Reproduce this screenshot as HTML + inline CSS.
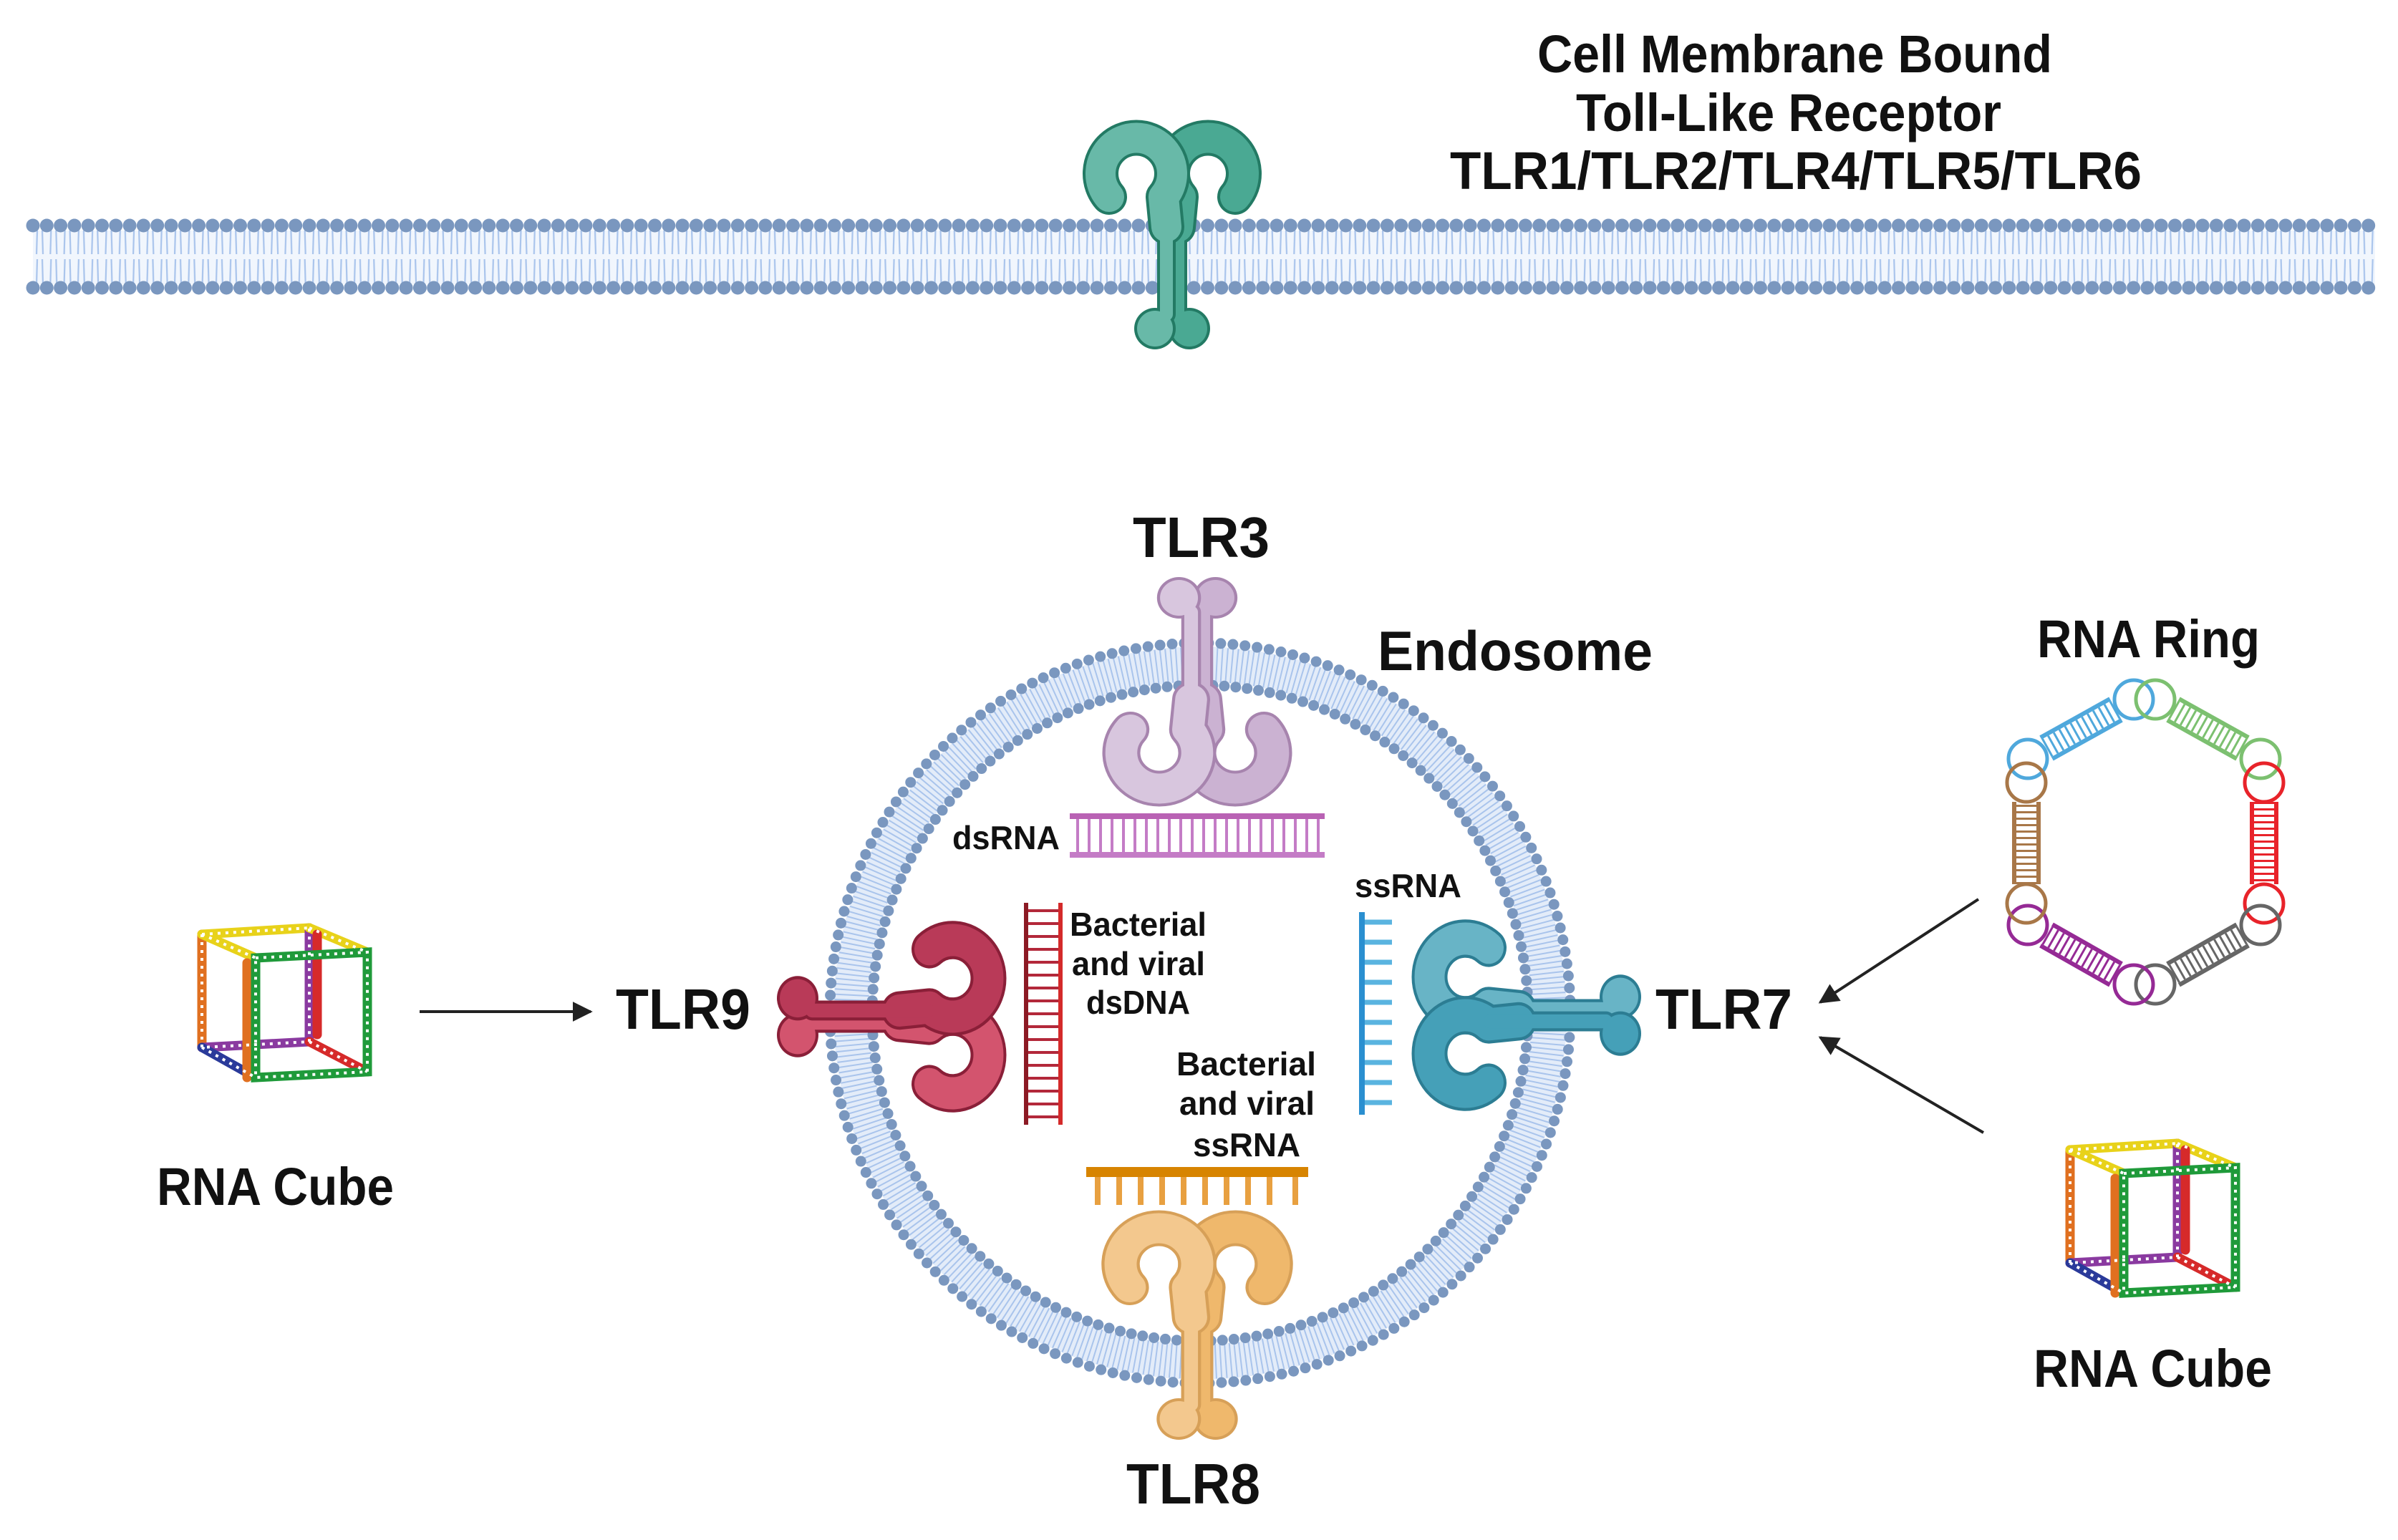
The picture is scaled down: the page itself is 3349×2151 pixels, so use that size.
<!DOCTYPE html>
<html><head><meta charset="utf-8"><style>
html,body{margin:0;padding:0;background:#fff;}
svg{display:block;}
text{font-family:"Liberation Sans",sans-serif;font-weight:bold;fill:#111;}
</style></head><body>
<svg width="3349" height="2151" viewBox="0 0 3349 2151" xmlns="http://www.w3.org/2000/svg">
<defs>
<pattern id="tails" x="46" y="322" width="19.3" height="75" patternUnits="userSpaceOnUse">
 <rect width="19.3" height="75" fill="#f1f6fd"/>
 <path d="M6 0 L5 33 M13 0 L14 33 M6 40 L5 75 M13 40 L14 75" stroke="#a9c4ec" stroke-width="2.2" fill="none"/>
</pattern>
<g id="half">
 <path d="M-88 108 A50 50 0 1 1 -12 108 L-8 150" fill="none" stroke="var(--o)" stroke-width="50" stroke-linecap="round" stroke-linejoin="round"/>
 <line x1="-8" y1="110" x2="-8" y2="272" stroke="var(--o)" stroke-width="26" stroke-linecap="round"/>
 <circle cx="-24" cy="292" r="29" fill="var(--o)"/>
 <path d="M-88 108 A50 50 0 1 1 -12 108 L-8 150" fill="none" stroke="var(--f)" stroke-width="42" stroke-linecap="round" stroke-linejoin="round"/>
 <line x1="-8" y1="110" x2="-8" y2="272" stroke="var(--f)" stroke-width="18" stroke-linecap="round"/>
 <circle cx="-24" cy="292" r="25" fill="var(--f)"/>
</g>
<g id="rec">
 <g transform="scale(-1,1)" style="--f:var(--f2)"><use href="#half"/></g>
 <use href="#half"/>
</g>
<g id="cube">
 <g fill="none" stroke-width="13" stroke-linecap="round">
  <path d="M282 1305 L432 1296" stroke="#e8d21a"/>
  <path d="M282 1305 L282 1463" stroke="#e07020"/>
  <path d="M282 1463 L432 1455" stroke="#8a3aa0"/>
  <path d="M432 1296 L432 1455" stroke="#8a3aa0"/>
  <path d="M282 1305 L357 1338" stroke="#e8d21a"/>
  <path d="M432 1296 L513 1330" stroke="#e8d21a"/>
  <path d="M282 1463 L357 1505" stroke="#2a3a9a"/>
  <path d="M432 1455 L513 1497" stroke="#d62a2a"/>
  <path d="M443 1305 L443 1445" stroke="#d62a2a"/>
  <path d="M345 1345 L345 1505" stroke="#e07020"/>
  <path d="M357 1338 L513 1330 L513 1497 L357 1505 Z" stroke="#1f9a3a"/>
 </g>
 <g fill="none" stroke="#fff" stroke-width="4" stroke-dasharray="4 7">
  <path d="M282 1305 L432 1296 M282 1305 L282 1463 L432 1455 L432 1296 M282 1305 L357 1338 M432 1296 L513 1330 M282 1463 L357 1505 M432 1455 L513 1497 M357 1338 L513 1330 L513 1497 L357 1505 Z"/>
 </g>
</g>
<marker id="ah" viewBox="0 0 10 10" refX="9" refY="5" markerWidth="7" markerHeight="7" orient="auto"><path d="M0 0 L10 5 L0 10 Z" fill="#222"/></marker>
</defs>

<!-- cell membrane -->
<rect x="46" y="322" width="3271" height="75" fill="url(#tails)"/>
<line x1="46" y1="315" x2="3317" y2="315" stroke="#7a97bf" stroke-width="19" stroke-dasharray="0 19.3" stroke-linecap="round"/>
<line x1="46" y1="402" x2="3317" y2="402" stroke="#7a97bf" stroke-width="19" stroke-dasharray="0 19.3" stroke-linecap="round"/>
<g transform="translate(1637,167)" style="--f:#68b9a8;--f2:#4aa993;--o:#237a64"><use href="#rec"/></g>

<text x="2147" y="101" font-size="74" textLength="719" lengthAdjust="spacingAndGlyphs">Cell Membrane Bound</text>
<text x="2201" y="183" font-size="74" textLength="594" lengthAdjust="spacingAndGlyphs">Toll-Like Receptor</text>
<text x="2025" y="264" font-size="74" textLength="966" lengthAdjust="spacingAndGlyphs">TLR1/TLR2/TLR4/TLR5/TLR6</text>

<!-- endosome -->
<circle cx="1676" cy="1415" r="487" fill="none" stroke="#e3ecf9" stroke-width="50"/>
<circle cx="1676" cy="1415" r="487" fill="none" stroke="#a9c4ec" stroke-width="48" stroke-dasharray="2 5"/>
<circle cx="1676" cy="1415" r="517" fill="none" stroke="#7a97bf" stroke-width="15" stroke-dasharray="0 17" stroke-linecap="round"/>
<circle cx="1676" cy="1415" r="458" fill="none" stroke="#7a97bf" stroke-width="15" stroke-dasharray="0 16" stroke-linecap="round"/>

<!-- receptors -->
<g transform="translate(1672,1127) scale(1.06,-1)" style="--f:#d8c6de;--f2:#cbb2d2;--o:#a784ae"><use href="#rec"/></g>
<g transform="translate(1672,1690) scale(1.07,1)" style="--f:#f3c88e;--f2:#efb86c;--o:#d7a058"><use href="#rec"/></g>
<g transform="translate(1406,1420) rotate(90) scale(1.07,1)" style="--f:#b93a58;--f2:#d3546e;--o:#8a1f38"><use href="#rec"/></g>
<g transform="translate(1971,1418) rotate(-90) scale(1.07,1)" style="--f:#45a0b8;--f2:#68b4c6;--o:#2c7d93"><use href="#rec"/></g>

<!-- dsRNA -->
<g stroke="#c47cc6" stroke-width="4">
<path d="M1505 1142 V1194 M1521 1142 V1194 M1537 1142 V1194 M1553 1142 V1194 M1569 1142 V1194 M1585 1142 V1194 M1601 1142 V1194 M1617 1142 V1194 M1633 1142 V1194 M1649 1142 V1194 M1665 1142 V1194 M1681 1142 V1194 M1697 1142 V1194 M1713 1142 V1194 M1729 1142 V1194 M1745 1142 V1194 M1761 1142 V1194 M1777 1142 V1194 M1793 1142 V1194 M1809 1142 V1194 M1825 1142 V1194 M1841 1142 V1194"/>
</g>
<rect x="1494" y="1136" width="356" height="8" fill="#b962b4"/>
<rect x="1494" y="1190" width="356" height="8" fill="#c47cc6"/>
<!-- dsDNA -->
<g stroke-width="4">
<path d="M1432 1272 H1482 M1432 1290 H1482 M1432 1308 H1482 M1432 1326 H1482 M1432 1344 H1482 M1432 1362 H1482 M1432 1380 H1482 M1432 1398 H1482 M1432 1416 H1482 M1432 1434 H1482 M1432 1452 H1482 M1432 1470 H1482 M1432 1488 H1482 M1432 1506 H1482 M1432 1524 H1482 M1432 1542 H1482 M1432 1560 H1482" stroke="#b3283a"/>
</g>
<rect x="1430" y="1261" width="6" height="310" fill="#8c1a24"/>
<rect x="1478" y="1261" width="6" height="310" fill="#d42a2a"/>
<!-- ssRNA blue -->
<rect x="1898" y="1274" width="8" height="283" fill="#2a8fd0"/>
<g stroke="#5ab4e0" stroke-width="7"><path d="M1906 1288 H1944 M1906 1316 H1944 M1906 1344 H1944 M1906 1372 H1944 M1906 1400 H1944 M1906 1428 H1944 M1906 1456 H1944 M1906 1484 H1944 M1906 1512 H1944 M1906 1540 H1944"/></g>
<!-- orange comb -->
<rect x="1517" y="1630" width="310" height="14" fill="#d78400"/>
<g stroke="#e8a040" stroke-width="8"><path d="M1533 1644 V1683 M1563 1644 V1683 M1593 1644 V1683 M1623 1644 V1683 M1653 1644 V1683 M1683 1644 V1683 M1713 1644 V1683 M1743 1644 V1683 M1773 1644 V1683 M1809 1644 V1683"/></g>

<!-- labels -->
<text x="1582" y="778" font-size="80" textLength="191" lengthAdjust="spacingAndGlyphs">TLR3</text>
<text x="1924" y="936" font-size="78" textLength="384" lengthAdjust="spacingAndGlyphs">Endosome</text>
<text x="860" y="1437" font-size="80" textLength="188" lengthAdjust="spacingAndGlyphs">TLR9</text>
<text x="2312" y="1437" font-size="80" textLength="191" lengthAdjust="spacingAndGlyphs">TLR7</text>
<text x="1573" y="2100" font-size="80" textLength="187" lengthAdjust="spacingAndGlyphs">TLR8</text>
<text x="2845" y="918" font-size="74" textLength="311" lengthAdjust="spacingAndGlyphs">RNA Ring</text>
<text x="219" y="1683" font-size="74" textLength="331" lengthAdjust="spacingAndGlyphs">RNA Cube</text>
<text x="2840" y="1937" font-size="74" textLength="333" lengthAdjust="spacingAndGlyphs">RNA Cube</text>

<g font-size="46">
<text x="1330" y="1186" textLength="150" lengthAdjust="spacingAndGlyphs">dsRNA</text>
<text x="1892" y="1253" textLength="149" lengthAdjust="spacingAndGlyphs">ssRNA</text>
<text x="1494" y="1307" textLength="191" lengthAdjust="spacingAndGlyphs">Bacterial</text>
<text x="1497" y="1362" textLength="186" lengthAdjust="spacingAndGlyphs">and viral</text>
<text x="1517" y="1416" textLength="145" lengthAdjust="spacingAndGlyphs">dsDNA</text>
<text x="1643" y="1502" textLength="195" lengthAdjust="spacingAndGlyphs">Bacterial</text>
<text x="1647" y="1557" textLength="189" lengthAdjust="spacingAndGlyphs">and viral</text>
<text x="1666" y="1615" textLength="150" lengthAdjust="spacingAndGlyphs">ssRNA</text>
</g>

<!-- arrows -->
<line x1="586" y1="1413" x2="825" y2="1413" stroke="#222" stroke-width="4" marker-end="url(#ah)"/>
<line x1="2763" y1="1256" x2="2542" y2="1400" stroke="#222" stroke-width="4" marker-end="url(#ah)"/>
<line x1="2770" y1="1582" x2="2542" y2="1449" stroke="#222" stroke-width="4" marker-end="url(#ah)"/>

<!-- cubes -->
<use href="#cube"/>
<use href="#cube" transform="translate(2609,301)"/>

<!-- RNA ring -->
<g fill="none">
  <g stroke="#4fa8dc"><line x1="2858" y1="1045" x2="2955" y2="991" stroke-width="40"/><line x1="2858" y1="1045" x2="2955" y2="991" stroke="#fff" stroke-width="28"/><line x1="2858" y1="1045" x2="2955" y2="991" stroke-width="28" stroke-dasharray="3 6"/><circle cx="2832" cy="1060" r="27" stroke-width="5"/><circle cx="2980" cy="977" r="27" stroke-width="5"/></g>
  <g stroke="#7cc070"><line x1="3035" y1="991" x2="3132" y2="1045" stroke-width="40"/><line x1="3035" y1="991" x2="3132" y2="1045" stroke="#fff" stroke-width="28"/><line x1="3035" y1="991" x2="3132" y2="1045" stroke-width="28" stroke-dasharray="3 6"/><circle cx="3010" cy="977" r="27" stroke-width="5"/><circle cx="3157" cy="1060" r="27" stroke-width="5"/></g>
  <g stroke="#e8232a"><line x1="3162" y1="1120" x2="3162" y2="1235" stroke-width="40"/><line x1="3162" y1="1120" x2="3162" y2="1235" stroke="#fff" stroke-width="28"/><line x1="3162" y1="1120" x2="3162" y2="1235" stroke-width="28" stroke-dasharray="3 6"/><circle cx="3162" cy="1093" r="27" stroke-width="5"/><circle cx="3162" cy="1262" r="27" stroke-width="5"/></g>
  <g stroke="#666"><line x1="3132" y1="1306" x2="3035" y2="1361" stroke-width="40"/><line x1="3132" y1="1306" x2="3035" y2="1361" stroke="#fff" stroke-width="28"/><line x1="3132" y1="1306" x2="3035" y2="1361" stroke-width="28" stroke-dasharray="3 6"/><circle cx="3157" cy="1292" r="27" stroke-width="5"/><circle cx="3010" cy="1375" r="27" stroke-width="5"/></g>
  <g stroke="#952a95"><line x1="2955" y1="1361" x2="2858" y2="1306" stroke-width="40"/><line x1="2955" y1="1361" x2="2858" y2="1306" stroke="#fff" stroke-width="28"/><line x1="2955" y1="1361" x2="2858" y2="1306" stroke-width="28" stroke-dasharray="3 6"/><circle cx="2980" cy="1375" r="27" stroke-width="5"/><circle cx="2832" cy="1292" r="27" stroke-width="5"/></g>
  <g stroke="#a87748"><line x1="2830" y1="1235" x2="2830" y2="1120" stroke-width="40"/><line x1="2830" y1="1235" x2="2830" y2="1120" stroke="#fff" stroke-width="28"/><line x1="2830" y1="1235" x2="2830" y2="1120" stroke-width="28" stroke-dasharray="3 6"/><circle cx="2830" cy="1262" r="27" stroke-width="5"/><circle cx="2830" cy="1093" r="27" stroke-width="5"/></g>
</g>
</svg>
</body></html>
